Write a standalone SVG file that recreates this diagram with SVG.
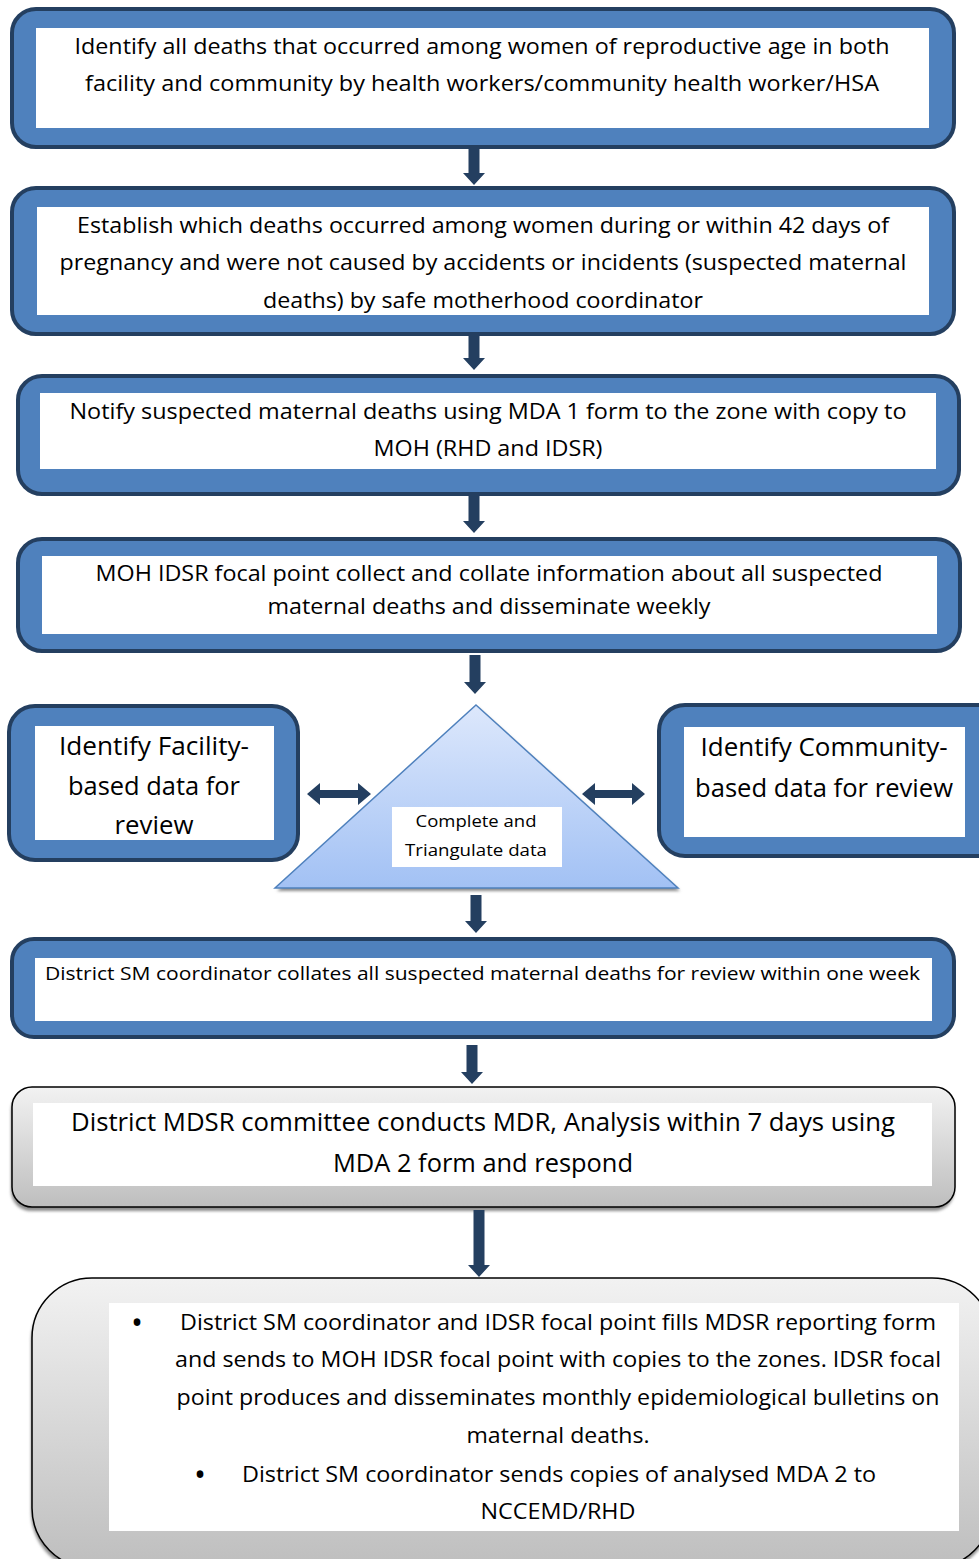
<svg xmlns="http://www.w3.org/2000/svg" width="979" height="1559" viewBox="0 0 979 1559">
  <style>
    .blue { fill: #4F81BD; stroke: #243F60; stroke-width: 4; }
    .inner { fill: #FFFFFF; }
    .gray { fill: url(#grayGrad); stroke: #000000; stroke-width: 1.5; }
    .arrow { fill: #243F60; }
    text { font-family: "Open Sans", "Noto Sans", sans-serif; fill: #000000; }
    .c { text-anchor: middle; }
    .bullet { font-size: 32px; text-anchor: middle; }
  </style>
  <defs>
    <linearGradient id="grayGrad" x1="0" y1="0" x2="0" y2="1">
      <stop offset="0" stop-color="#F2F2F2"/>
      <stop offset="1" stop-color="#BEBEBE"/>
    </linearGradient>
    <linearGradient id="triGrad" x1="0" y1="0" x2="0" y2="1">
      <stop offset="0" stop-color="#DDE8FC"/>
      <stop offset="1" stop-color="#A2C1F4"/>
    </linearGradient>
    <filter id="soft" x="-10%" y="-10%" width="120%" height="130%">
      <feGaussianBlur stdDeviation="1.5"/>
    </filter>
  </defs>

  <!-- Step 1 -->
  <g id="identify-deaths">
    <rect class="blue" x="12" y="9" width="942" height="138" rx="24"/>
    <rect class="inner" x="36" y="28" width="893" height="100"/>
    <text class="c" x="482" y="54" font-size="22" textLength="815" lengthAdjust="spacingAndGlyphs">Identify all deaths that occurred among women of reproductive age in both</text>
    <text class="c" x="482" y="91" font-size="22" textLength="794" lengthAdjust="spacingAndGlyphs">facility and community by health workers/community health worker/HSA</text>
  </g>

  <!-- Step 2 -->
  <g id="establish-maternal">
    <rect class="blue" x="12" y="188" width="942" height="146" rx="24"/>
    <rect class="inner" x="37" y="207" width="892" height="108"/>
    <text class="c" x="483" y="233" font-size="22" textLength="812" lengthAdjust="spacingAndGlyphs">Establish which deaths occurred among women during or within 42 days of</text>
    <text class="c" x="483" y="270" font-size="22" textLength="847" lengthAdjust="spacingAndGlyphs">pregnancy and were not caused by accidents or incidents (suspected maternal</text>
    <text class="c" x="483" y="308" font-size="22" textLength="440" lengthAdjust="spacingAndGlyphs">deaths) by safe motherhood coordinator</text>
  </g>

  <!-- Step 3 -->
  <g id="notify">
    <rect class="blue" x="18" y="376" width="941" height="118" rx="24"/>
    <rect class="inner" x="40" y="393" width="896" height="76"/>
    <text class="c" x="488" y="419" font-size="22" textLength="837" lengthAdjust="spacingAndGlyphs">Notify suspected maternal deaths using MDA 1 form to the zone with copy to</text>
    <text class="c" x="488" y="456" font-size="22" textLength="229" lengthAdjust="spacingAndGlyphs">MOH (RHD and IDSR)</text>
  </g>

  <!-- Step 4 -->
  <g id="collate-weekly">
    <rect class="blue" x="18" y="539" width="942" height="112" rx="24"/>
    <rect class="inner" x="42" y="556" width="895" height="78"/>
    <text class="c" x="489" y="581" font-size="22" textLength="787" lengthAdjust="spacingAndGlyphs">MOH IDSR focal point collect and collate information about all suspected</text>
    <text class="c" x="489" y="614" font-size="22" textLength="443" lengthAdjust="spacingAndGlyphs">maternal deaths and disseminate weekly</text>
  </g>

  <!-- Facility data -->
  <g id="facility-data">
    <rect class="blue" x="9" y="706" width="289" height="154" rx="26"/>
    <rect class="inner" x="35" y="726" width="239" height="114"/>
    <text class="c" x="154" y="755" font-size="26" textLength="190" lengthAdjust="spacingAndGlyphs">Identify Facility-</text>
    <text class="c" x="154" y="795" font-size="26" textLength="172" lengthAdjust="spacingAndGlyphs">based data for</text>
    <text class="c" x="154" y="834" font-size="26" textLength="79" lengthAdjust="spacingAndGlyphs">review</text>
  </g>

  <!-- Community data -->
  <g id="community-data">
    <rect class="blue" x="659" y="705" width="345" height="151" rx="26"/>
    <rect class="inner" x="684" y="727" width="281" height="110"/>
    <text class="c" x="824" y="756" font-size="26" textLength="247" lengthAdjust="spacingAndGlyphs">Identify Community-</text>
    <text class="c" x="824" y="797" font-size="26" textLength="258" lengthAdjust="spacingAndGlyphs">based data for review</text>
  </g>

  <!-- Triangulation -->
  <g id="triangulate">
    <polygon points="478,708 680,891 277,891" fill="#8C8C8C" filter="url(#soft)"/>
    <polygon points="476,705 678,888 275,888" fill="url(#triGrad)" stroke="#4F81BD" stroke-width="1.5"/>
    <rect class="inner" x="392" y="807" width="170" height="60"/>
    <text class="c" x="476" y="827" font-size="17" textLength="121" lengthAdjust="spacingAndGlyphs">Complete and</text>
    <text class="c" x="476" y="856" font-size="17" textLength="142" lengthAdjust="spacingAndGlyphs">Triangulate data</text>
  </g>

  <!-- Step 6 -->
  <g id="district-collates">
    <rect class="blue" x="12" y="939" width="942" height="98" rx="22"/>
    <rect class="inner" x="35" y="958" width="897" height="63"/>
    <text x="45" y="980" font-size="19" textLength="875" lengthAdjust="spacingAndGlyphs">District SM coordinator collates all suspected maternal deaths for review within one week</text>
  </g>

  <!-- Step 7 -->
  <g id="committee-review">
    <rect x="11" y="1091" width="943" height="120" rx="20" fill="#8C8C8C" filter="url(#soft)"/>
    <rect class="gray" x="12" y="1087" width="943" height="120" rx="20"/>
    <rect class="inner" x="33" y="1103" width="899" height="83"/>
    <text class="c" x="483" y="1131" font-size="26" textLength="824" lengthAdjust="spacingAndGlyphs">District MDSR committee conducts MDR, Analysis within 7 days using</text>
    <text class="c" x="483" y="1172" font-size="26" textLength="300" lengthAdjust="spacingAndGlyphs">MDA 2 form and respond</text>
  </g>

  <!-- Step 8 -->
  <g id="reporting">
    <rect x="31" y="1282" width="961" height="290" rx="60" fill="#8C8C8C" filter="url(#soft)"/>
    <rect class="gray" x="32" y="1278" width="960" height="290" rx="60"/>
    <rect class="inner" x="109" y="1303" width="850" height="228"/>
    <text class="bullet" x="137" y="1334">•</text>
    <text class="c" x="558" y="1330" font-size="22" textLength="756" lengthAdjust="spacingAndGlyphs">District SM coordinator and IDSR focal point fills MDSR reporting form</text>
    <text class="c" x="558" y="1367" font-size="22" textLength="766" lengthAdjust="spacingAndGlyphs">and sends to MOH IDSR focal point with copies to the zones. IDSR focal</text>
    <text class="c" x="558" y="1405" font-size="22" textLength="763" lengthAdjust="spacingAndGlyphs">point produces and disseminates monthly epidemiological bulletins on</text>
    <text class="c" x="558" y="1443" font-size="22" textLength="183" lengthAdjust="spacingAndGlyphs">maternal deaths.</text>
    <text class="bullet" x="200" y="1486">•</text>
    <text class="c" x="559" y="1482" font-size="22" textLength="634" lengthAdjust="spacingAndGlyphs">District SM coordinator sends copies of analysed MDA 2 to</text>
    <text class="c" x="558" y="1519" font-size="22" textLength="155" lengthAdjust="spacingAndGlyphs">NCCEMD/RHD</text>
  </g>

  <!-- Connectors: block arrows -->
  <g id="connectors">
    <polygon class="arrow" points="468.5,147 479.5,147 479.5,173 485,173 474,185 463,173 468.5,173"/>
    <polygon class="arrow" points="468.5,334 479.5,334 479.5,358 485,358 474,370 463,358 468.5,358"/>
    <polygon class="arrow" points="468.5,494 479.5,494 479.5,521 485,521 474,533 463,521 468.5,521"/>
    <polygon class="arrow" points="469.5,655 480.5,655 480.5,682 486,682 475,694 464,682 469.5,682"/>
    <polygon class="arrow" points="470.5,895 481.5,895 481.5,921 487,921 476,933 465,921 470.5,921"/>
    <polygon class="arrow" points="466.5,1045 477.5,1045 477.5,1072 483,1072 472,1084 461,1072 466.5,1072"/>
    <polygon class="arrow" points="473.5,1210 484.5,1210 484.5,1265 490,1265 479,1277 468,1265 473.5,1265"/>
    <!-- two-way links to the side boxes -->
    <polygon class="arrow" points="307,794 320,783 320,790 358,790 358,783 371,794 358,805 358,798 320,798 320,805"/>
    <polygon class="arrow" points="582,794 595,783 595,790 632,790 632,783 645,794 632,805 632,798 595,798 595,805"/>
  </g>
</svg>
